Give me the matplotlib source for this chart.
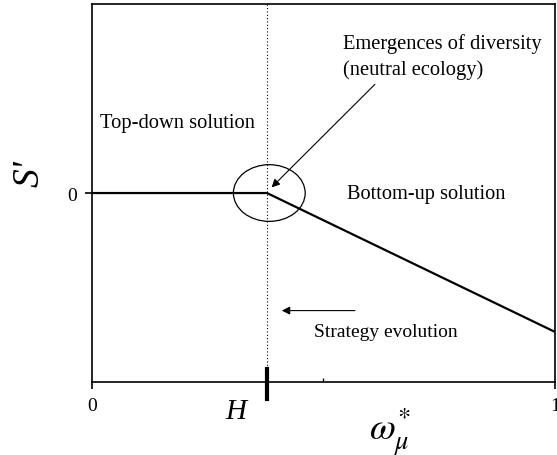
import matplotlib
matplotlib.use('Agg')
import matplotlib.pyplot as plt
from matplotlib.patches import Ellipse

plt.rcParams['font.family'] = 'Liberation Serif'
plt.rcParams['mathtext.fontset'] = 'stix'

# data
H = 0.378
x_pts = [0, H, 1]
s_pts = [0, 0, -0.735]
x_ticks = [0, 1]
x_ticklabels = ['0', '1']

fig = plt.figure(figsize=(5.57, 4.56), dpi=100)
ax = fig.add_axes([0.165, 0.160, 0.8315, 0.829])

ax.plot(x_pts, s_pts, color='black', lw=1.6, solid_capstyle='butt', zorder=3)
ax.axvline(H, color='black', lw=0.8, ls=(0, (1, 2)))

ax.set_xlim(0, 1)
ax.set_ylim(-1, 1)
ax.set_xticks(x_ticks)
ax.set_xticklabels(x_ticklabels, fontsize=14)
ax.set_xticks([0.5], minor=True)
ax.tick_params(axis='x', which='minor', direction='in', length=3, width=1)
ax.set_yticks([0])
ax.set_yticklabels(['0'], fontsize=14)
ax.tick_params(axis='both', which='major', direction='out', length=5, width=1.2, pad=6)
for sp in ax.spines.values():
    sp.set_linewidth(1.2)

# H marker on x axis
ax.plot([H, H], [-0.93, -1.09], color='black', lw=3, clip_on=False, zorder=5)
ax.text(H - 0.045, -1.085, 'H', fontsize=21, style='italic', ha='right', va='top')

# axis labels
fig.text(0.053, 0.620, "S'", fontsize=27, style='italic', rotation=90,
         ha='center', va='center')
fig.text(0.700, 0.052, r'$\omega_{\mu}^{*}$', fontsize=27, ha='center', va='center')

# circle around the kink
ax.add_patch(Ellipse((H + 0.005, 0), 0.155, 0.30, fill=False, lw=0.9, color='black'))

ax.text(0.018, 0.375, 'Top-down solution', fontsize=14.8, va='center')
ax.text(0.542, 0.725, 'Emergences of diversity\n(neutral ecology)', fontsize=14.8,
        va='center', linespacing=1.4)
ax.text(0.550, -0.005, 'Bottom-up solution', fontsize=14.7, va='center')
ax.text(0.48, -0.73, 'Strategy evolution', fontsize=14, va='center')

ax.annotate('', xy=(H + 0.01, 0.03), xytext=(0.611, 0.575),
            arrowprops=dict(arrowstyle='-|>', color='black', lw=0.8,
                            mutation_scale=12, shrinkA=0, shrinkB=0))
ax.annotate('', xy=(0.41, -0.622), xytext=(0.568, -0.622),
            arrowprops=dict(arrowstyle='-|>', color='black', lw=0.8,
                            mutation_scale=12, shrinkA=0, shrinkB=0))

fig.savefig('out.png', dpi=100)
